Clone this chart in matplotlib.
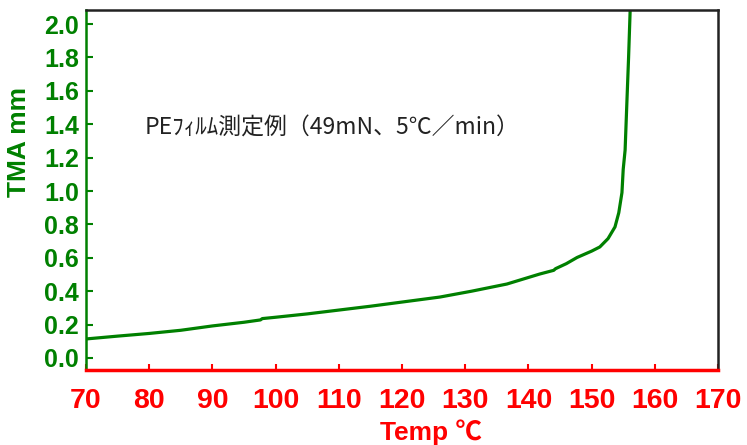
import numpy as np
import matplotlib.pyplot as plt

# TMA curve of a PE film
temp = [70, 75, 80, 85, 90, 95, 97.6, 97.9, 100, 105, 110, 115, 120, 126,
        131, 136.6, 141.8, 144.0, 144.3, 146, 147.7, 150, 151.3, 152.6,
        153.7, 154.3, 154.8, 155.0, 155.3, 155.6, 155.85, 156.1]
tma = [0.114, 0.131, 0.147, 0.166, 0.192, 0.214, 0.228, 0.236, 0.244,
       0.264, 0.287, 0.31, 0.335, 0.365, 0.40, 0.443, 0.503, 0.525, 0.535,
       0.565, 0.602, 0.64, 0.665, 0.715, 0.785, 0.87, 0.99, 1.13, 1.245,
       1.55, 1.8, 2.084]

xticks = [70, 80, 90, 100, 110, 120, 130, 140, 150, 160, 170]
yticks = [0.0, 0.2, 0.4, 0.6, 0.8, 1.0, 1.2, 1.4, 1.6, 1.8, 2.0]

num_font = 'Liberation Sans'
jp = ['Noto Sans CJK JP', 'DejaVu Sans']

fig = plt.figure(figsize=(7.47, 4.45), dpi=100)
ax = fig.add_axes([0.1151, 0.1685, 0.8461, 0.809])

green = '#008000'
red = '#ff0000'

ax.plot(temp, tma, color=green, lw=2.3, solid_joinstyle='round')

ax.set_xlim(70, 170)
ax.set_ylim(-0.072, 2.084)
ax.set_xticks(xticks)
ax.set_yticks(yticks)
ax.set_xticklabels([str(t) for t in xticks], color=red, fontsize=20.5,
                   fontweight='bold', family=num_font)
ax.set_yticklabels(['%.1f' % t for t in yticks], color=green, fontsize=18,
                   fontweight='bold', family=num_font)
ax.tick_params(axis='x', direction='in', length=4, width=1.5, color=red, pad=13)
ax.tick_params(axis='y', direction='in', length=5, width=1.5, color=green, pad=5)

ax.spines['left'].set_color(green)
ax.spines['left'].set_linewidth(1.8)
ax.spines['bottom'].set_color(red)
ax.spines['bottom'].set_linewidth(2.5)
ax.spines['top'].set_color('#222222')
ax.spines['top'].set_linewidth(1.8)
ax.spines['right'].set_color('#222222')
ax.spines['right'].set_linewidth(1.8)

fig.text(0.026, 0.68, 'TMA mm', rotation=90, ha='center', va='center',
         color=green, fontsize=19, fontweight='bold', family=num_font)
fig.text(0.577, 0.029, 'Temp ℃', ha='center', va='center', color=red,
         fontsize=19, fontweight='bold', family=[num_font] + jp)

ax.text(0.092, 0.672, 'PEﾌｨﾙﾑ測定例（49mN、5℃／min）', transform=ax.transAxes,
        ha='left', va='center', color='#222222', fontsize=16.5, family=jp)

plt.savefig('out.png', dpi=100)
